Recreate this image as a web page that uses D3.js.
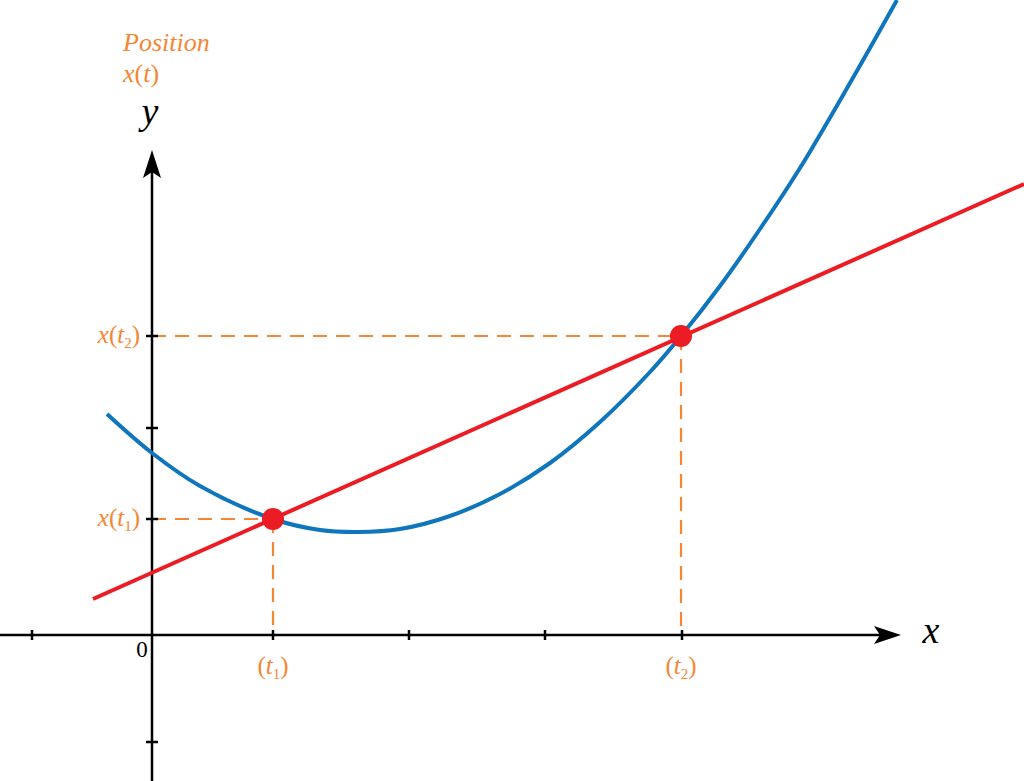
<!DOCTYPE html>
<html>
<head>
<meta charset="utf-8">
<script src="https://d3js.org/d3.v7.min.js"></script>
<style>
  html, body { margin: 0; padding: 0; background: #fff; }
  svg { display: block; }
</style>
</head>
<body>
<div id="chart"></div>
<script>
// Position curve x(t) (t along horizontal, x(t) vertical)
const curveT = [-0.45, 0.00, 0.48, 1.21, 1.68, 2.06, 2.48, 2.98, 3.48, 3.98, 4.48, 4.98, 5.29, 5.68, 6.08, 6.48, 6.98, 7.45];
const curveX = [2.21, 1.82, 1.49, 1.16, 1.05, 1.03, 1.06, 1.19, 1.41, 1.72, 2.13, 2.63, 2.99, 3.49, 4.06, 4.67, 5.52, 6.35];

// Secant line through the two marked points
const secantT = [-0.59, 8.72];
const secantX = [0.36, 4.51];

// Marked points t1, t2
const pointT = [1.21, 5.29];
const pointX = [1.16, 2.99];
const pointNames = ["1", "2"];

// Tick marks on the axes
const xTicks = [-1.20, 1.21, 2.57, 3.93, 5.30];
const yTicks = [-1.07, 1.16, 2.07, 2.99];

const width = 1024;
const height = 781;

const blue = "#0f75bc";
const red = "#ec1c24";
const orange = "#f58634";
const serif = "'Liberation Serif', 'Times New Roman', serif";

const x = d3.scaleLinear().domain([-1.52, 8.72]).range([0, width]);
const y = d3.scaleLinear().domain([6.35, -1.46]).range([0, height]);

const svg = d3.select("#chart").append("svg")
    .attr("width", width)
    .attr("height", height);

// dashed guides from the points to the axes
const pts = pointT.map((t, i) => ({ t, v: pointX[i], name: pointNames[i] }));

svg.selectAll("line.hguide")
    .data(pts).enter().append("line")
    .attr("x1", x(0)).attr("x2", d => x(d.t))
    .attr("y1", d => y(d.v)).attr("y2", d => y(d.v))
    .attr("stroke", orange).attr("stroke-width", 2.2)
    .attr("stroke-dasharray", "14,9");

svg.selectAll("line.vguide")
    .data(pts).enter().append("line")
    .attr("x1", d => x(d.t)).attr("x2", d => x(d.t))
    .attr("y1", d => y(d.v)).attr("y2", y(0))
    .attr("stroke", orange).attr("stroke-width", 2.2)
    .attr("stroke-dasharray", "14,9");

// axes
const axis = svg.append("g").attr("stroke", "#000").attr("stroke-width", 2.5);
axis.append("line")
    .attr("x1", 0).attr("x2", 885)
    .attr("y1", y(0)).attr("y2", y(0));
axis.append("line")
    .attr("x1", x(0)).attr("x2", x(0))
    .attr("y1", height).attr("y2", 165);

axis.selectAll("line.xt")
    .data(xTicks).enter().append("line")
    .attr("x1", d => x(d)).attr("x2", d => x(d))
    .attr("y1", y(0) - 5).attr("y2", y(0) + 5);
axis.selectAll("line.yt")
    .data(yTicks).enter().append("line")
    .attr("x1", x(0) - 6).attr("x2", x(0) + 6)
    .attr("y1", d => y(d)).attr("y2", d => y(d));

// arrow heads
const ax = 901, ay = y(0);
svg.append("path")
    .attr("d", `M${ax},${ay} L${ax - 27},${ay - 9} L${ax - 21},${ay} L${ax - 27},${ay + 9} Z`)
    .attr("fill", "#000");
const bx = x(0), by = 150;
svg.append("path")
    .attr("d", `M${bx},${by} L${bx - 9},${by + 28} L${bx},${by + 22} L${bx + 9},${by + 28} Z`)
    .attr("fill", "#000");

// the curve
const curveData = curveT.map((t, i) => [t, curveX[i]]);
svg.append("path")
    .datum(curveData)
    .attr("d", d3.line().x(d => x(d[0])).y(d => y(d[1])).curve(d3.curveCatmullRom))
    .attr("fill", "none")
    .attr("stroke", blue)
    .attr("stroke-width", 4);

// the secant line
svg.append("line")
    .attr("x1", x(secantT[0])).attr("y1", y(secantX[0]))
    .attr("x2", x(secantT[1])).attr("y2", y(secantX[1]))
    .attr("stroke", red)
    .attr("stroke-width", 4);

svg.selectAll("circle.pt")
    .data(pts).enter().append("circle")
    .attr("cx", d => x(d.t)).attr("cy", d => y(d.v))
    .attr("r", 11)
    .attr("fill", red);

// labels
const label = svg.append("g").attr("font-family", serif);

// y axis tick labels x(t1), x(t2) and the t labels under the x axis
pts.forEach(d => {
    const tx = label.append("text")
        .attr("x", x(0) - 12)
        .attr("y", y(d.v) + 7)
        .attr("text-anchor", "end")
        .attr("font-size", 25)
        .attr("fill", orange);
    tx.append("tspan").attr("font-style", "italic").text("x");
    tx.append("tspan").text("(");
    tx.append("tspan").attr("font-style", "italic").text("t");
    tx.append("tspan").attr("font-size", 15).attr("dy", 5).text(d.name);
    tx.append("tspan").attr("dy", -5).text(")");

    const bt = label.append("text")
        .attr("x", x(d.t))
        .attr("y", y(0) + 39)
        .attr("text-anchor", "middle")
        .attr("font-size", 25)
        .attr("fill", orange);
    bt.append("tspan").text("(");
    bt.append("tspan").attr("font-style", "italic").text("t");
    bt.append("tspan").attr("font-size", 15).attr("dy", 5).text(d.name);
    bt.append("tspan").attr("dy", -5).text(")");
});

label.append("text")
    .attr("x", x(0) - 10).attr("y", y(0) + 22)
    .attr("text-anchor", "middle")
    .attr("font-size", 23)
    .text("0");

label.append("text")
    .attr("x", 931).attr("y", y(0) + 8)
    .attr("text-anchor", "middle")
    .attr("font-size", 38)
    .attr("font-style", "italic")
    .text("x");

label.append("text")
    .attr("x", 150).attr("y", 124)
    .attr("text-anchor", "middle")
    .attr("font-size", 38)
    .attr("font-style", "italic")
    .text("y");

label.append("text")
    .attr("x", 123).attr("y", 51)
    .attr("font-size", 26)
    .attr("font-style", "italic")
    .attr("fill", orange)
    .text("Position");

const xt = label.append("text")
    .attr("x", 123).attr("y", 82)
    .attr("font-size", 26)
    .attr("fill", orange);
xt.append("tspan").attr("font-style", "italic").text("x");
xt.append("tspan").text("(");
xt.append("tspan").attr("font-style", "italic").text("t");
xt.append("tspan").text(")");
</script>
</body>
</html>
